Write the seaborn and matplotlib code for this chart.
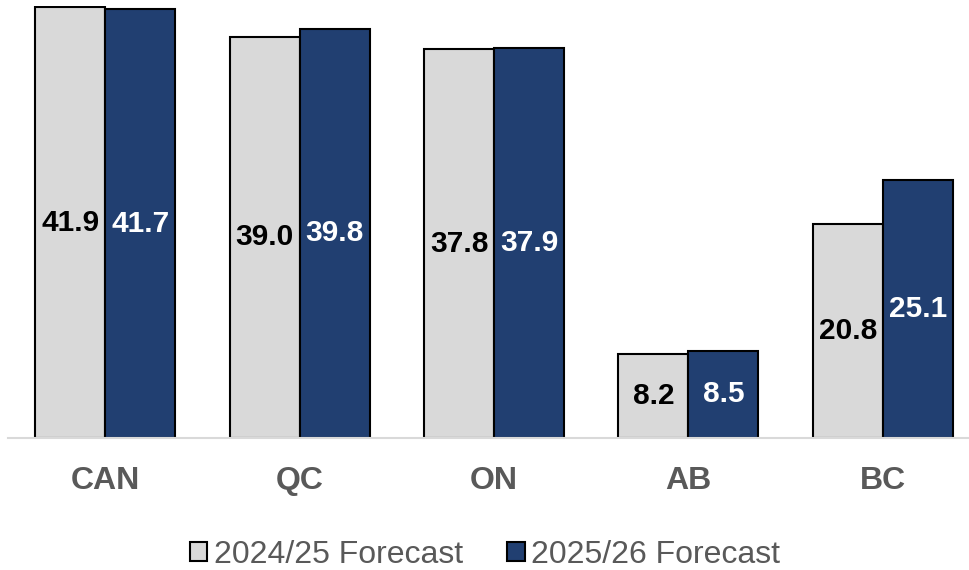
import pandas as pd
import matplotlib
matplotlib.use("Agg")
import matplotlib.pyplot as plt
import seaborn as sns

regions = ["CAN", "QC", "ON", "AB", "BC"]
series = ["2024/25 Forecast", "2025/26 Forecast"]
forecast_2024 = [41.9, 39.0, 37.8, 8.2, 20.8]
forecast_2025 = [41.7, 39.8, 37.9, 8.5, 25.1]

colors = ["#d9d9d9", "#213f71"]
label_colors = ["black", "white"]

df = pd.DataFrame({
    "region": regions * 2,
    "series": [series[0]] * len(regions) + [series[1]] * len(regions),
    "value": forecast_2024 + forecast_2025,
})

sns.set_style("white")
plt.rcParams["font.family"] = ["Liberation Sans", "DejaVu Sans"]

fig = plt.figure(figsize=(9.7, 5.7), dpi=100)
ax = fig.add_axes([8 / 970, 1 - 438 / 570, 972 / 970, 432 / 570])

sns.barplot(data=df, x="region", y="value", hue="series", hue_order=series,
            palette=colors, width=0.72, edgecolor="black", linewidth=1.5,
            saturation=1, errorbar=None, ax=ax)

for container, tc in zip(ax.containers, label_colors):
    ax.bar_label(container, fmt="%.1f", label_type="center", color=tc,
                 fontsize=21.5, fontweight="bold")

ax.set_ylim(0, 42)
ax.set_xlim(-0.5, 4.5)
ax.set_xlabel("")
ax.set_ylabel("")
ax.set_yticks([])
ax.tick_params(axis="x", length=0, pad=20, labelsize=23, labelcolor="#595959")
for lbl in ax.get_xticklabels():
    lbl.set_fontweight("bold")
for s in ["top", "left", "right"]:
    ax.spines[s].set_visible(False)
ax.spines["bottom"].set_color("#d9d9d9")
ax.spines["bottom"].set_linewidth(1.5)

handles, labels = ax.get_legend_handles_labels()
ax.legend(handles, labels, loc="center", bbox_to_anchor=(0.5, 1 - 555 / 570),
          bbox_transform=fig.transFigure, ncol=2, frameon=False,
          fontsize=23, labelcolor="#595959", handlelength=0.55, handleheight=0.55,
          handletextpad=0.2, columnspacing=1.4)

fig.savefig("out.png", dpi=100)
